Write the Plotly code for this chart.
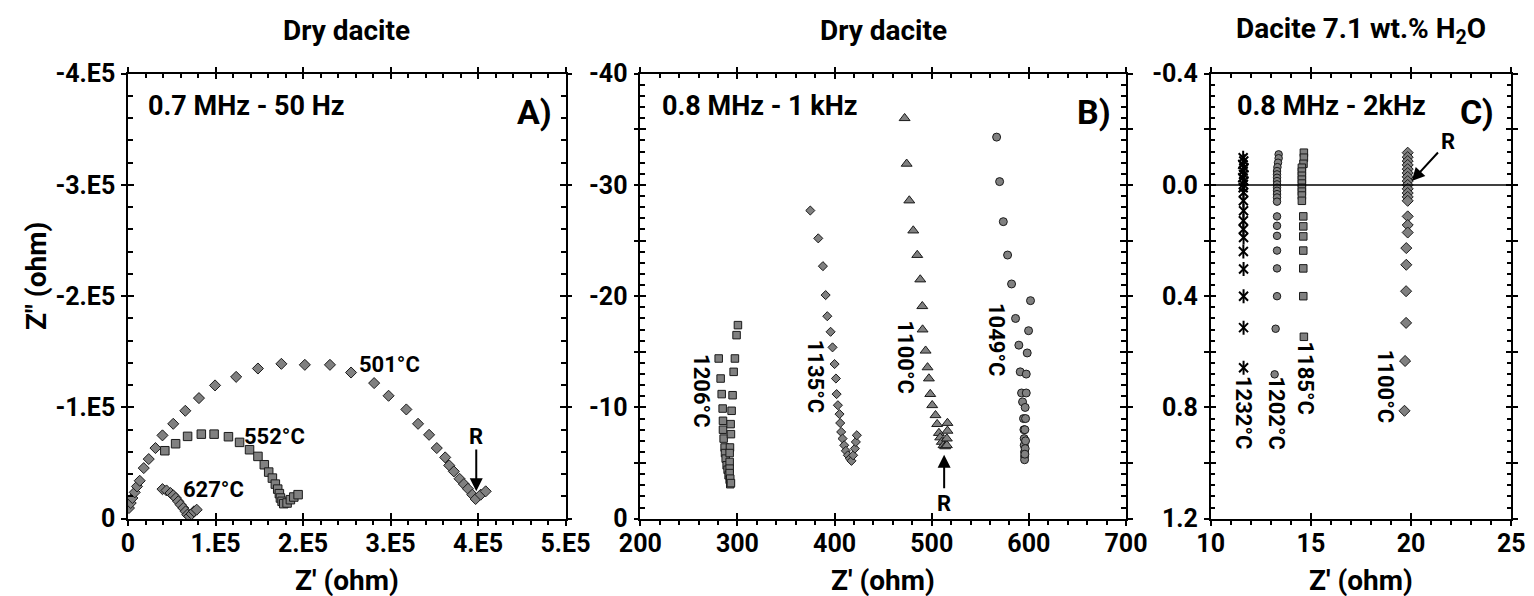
import plotly.graph_objects as go

# ---------------- Panel A : Dry dacite, 0.7 MHz - 50 Hz ----------------
a501_x = [1100, 3100, 5000, 7700, 10300, 13400, 18000, 23700, 31400, 39400, 51700, 65500, 81100,
          99500, 123600, 148500, 175300, 202100, 230800, 254900, 281300, 297800, 318100, 331500,
          344100, 352900, 362500, 367100, 372400, 378900, 383900, 388500, 393500, 397300, 403100, 408800]
a501_y = [-9600, -14100, -18600, -23700, -29000, -34100, -45500, -53600, -63500, -74900, -85300, -97000,
          -108400, -119800, -127500, -135000, -139200, -138300, -138300, -131400, -121900, -110500, -98200,
          -85300, -75400, -63500, -55100, -47900, -42500, -35900, -31100, -26900, -21600, -17700, -21600, -24600]
a552_x = [42100, 54400, 68100, 83800, 98400, 114800, 127500, 138900, 148500, 155800, 160800, 165000,
          168400, 171100, 173000, 174200, 176100, 178000, 181800, 185600, 189500, 194400]
a552_y = [-61100, -67400, -74000, -76000, -76000, -73700, -68600, -62000, -56000, -48500, -41900, -36500,
          -31100, -26600, -22500, -18600, -15600, -13500, -14100, -17100, -19500, -21600]
a627_x = [39400, 44000, 48600, 51700, 54700, 57400, 60100, 63200, 65800, 67800, 70000, 72700, 75400, 78500]
a627_y = [-26600, -25400, -23100, -21000, -18600, -15600, -12600, -9600, -6600, -3600, -2100, -4200, -6600, -8100]

# ---------------- Panel B : Dry dacite, 0.8 MHz - 1 kHz ----------------
b1206_x = [280.7, 282.7, 283.8, 284.8, 285.1, 285.1, 285.8, 286.8, 287.2, 287.9, 288.9, 289.9, 290.9, 292.0, 292.6,
           300.5, 299.1, 297.4, 296.1, 295.0, 294.0, 293.0, 293.3, 292.3, 292.0, 292.0, 292.0, 292.0, 292.6, 293.3]
b1206_y = [-14.4, -12.6, -11.2, -9.9, -8.8, -8.0, -7.2, -6.4, -5.9, -5.4, -4.8, -4.4, -3.9, -3.5, -3.1,
           -17.4, -16.5, -14.4, -13.2, -11.1, -9.7, -8.5, -7.6, -6.4, -5.9, -5.1, -4.5, -4.1, -3.6, -3.2]
b1135_x = [375.0, 383.2, 388.0, 390.8, 392.5, 395.9, 397.9, 400.0, 401.4, 402.1, 403.4, 405.1, 405.8, 406.8,
           408.2, 409.9, 411.6, 413.7, 415.7, 417.4, 419.1, 420.9, 421.9, 422.9]
b1135_y = [-27.7, -25.2, -22.7, -20.1, -18.2, -16.8, -15.4, -13.9, -12.6, -11.2, -10.2, -9.4, -8.6, -7.8,
           -7.2, -6.6, -6.1, -5.7, -5.4, -5.2, -5.7, -6.3, -6.9, -7.5]
b1100_x = [472.1, 474.2, 476.9, 481.0, 485.1, 488.2, 490.3, 490.6, 493.7, 495.7, 497.1, 498.5, 500.5, 503.9,
           505.6, 507.4, 508.7, 510.4, 512.1, 513.8, 515.6, 515.6, 516.2, 516.2]
b1100_y = [-36.0, -31.9, -28.6, -25.9, -23.7, -21.5, -19.1, -17.0, -15.1, -13.6, -12.6, -11.2, -10.2, -9.3,
           -8.5, -7.7, -7.3, -6.9, -6.6, -6.5, -6.6, -7.2, -7.9, -8.6]
b1049_x = [566.8, 569.9, 573.7, 578.1, 582.2, 586.3, 589.7, 591.1, 592.5, 593.5, 594.5, 594.9, 595.2, 595.2,
           595.6, 595.6, 595.6, 601.7, 599.7, 598.3, 597.3, 597.3, 596.2, 596.6, 595.9, 596.6, 596.2, 595.9]
b1049_y = [-34.3, -30.3, -26.7, -23.7, -21.1, -18.0, -15.6, -13.2, -11.3, -10.5, -9.0, -8.0, -7.2, -6.6,
           -6.0, -5.6, -5.3, -19.6, -16.9, -14.9, -13.0, -11.3, -10.0, -9.0, -8.0, -7.0, -6.3, -5.8]

# ---------------- Panel C : Dacite 7.1 wt.% H2O, 0.8 MHz - 2 kHz ----------------
c1232_x = [11.62, 11.65, 11.60, 11.66, 11.62, 11.64, 11.60, 11.66, 11.63, 11.62, 11.64, 11.63, 11.64,
           11.63, 11.63, 11.64, 11.63, 11.64, 11.64, 11.64, 11.64]
c1232_y = [-0.098, -0.086, -0.074, -0.062, -0.050, -0.038, -0.026, -0.014, -0.002, 0.010, 0.027, 0.057,
           0.093, 0.129, 0.159, 0.189, 0.239, 0.302, 0.400, 0.513, 0.657]
c1202_x = [13.39, 13.39, 13.36, 13.33, 13.31, 13.31, 13.31, 13.31, 13.31, 13.31, 13.31, 13.31, 13.31,
           13.31, 13.31, 13.31, 13.31, 13.31, 13.31, 13.31, 13.24, 13.19]
c1202_y = [-0.110, -0.096, -0.080, -0.064, -0.050, -0.038, -0.026, -0.014, -0.002, 0.010, 0.021, 0.033,
           0.045, 0.060, 0.113, 0.147, 0.183, 0.236, 0.300, 0.400, 0.517, 0.681]
c1185_x = [14.65, 14.65, 14.63, 14.55, 14.55, 14.55, 14.55, 14.55, 14.55, 14.55, 14.55, 14.55,
           14.62, 14.62, 14.62, 14.62, 14.62, 14.62, 14.65]
c1185_y = [-0.116, -0.098, -0.076, -0.062, -0.048, -0.033, -0.019, -0.005, 0.010, 0.024, 0.038, 0.057,
           0.113, 0.149, 0.185, 0.236, 0.300, 0.400, 0.546]
c1100_x = [19.83, 19.83, 19.83, 19.83, 19.83, 19.83, 19.83, 19.83, 19.83, 19.83, 19.83, 19.83, 19.83,
           19.83, 19.83, 19.83, 19.76, 19.76, 19.75, 19.75, 19.70, 19.67]
c1100_y = [-0.116, -0.100, -0.086, -0.072, -0.057, -0.043, -0.029, -0.014, 0.000, 0.014, 0.029, 0.043,
           0.057, 0.113, 0.144, 0.171, 0.227, 0.287, 0.382, 0.496, 0.633, 0.812]

# ticks
a_xticks = [0, 100000, 200000, 300000, 400000, 500000]
a_xtext = ['0', '1.E5', '2.E5', '3.E5', '4.E5', '5.E5']
a_yticks = [0, -100000, -200000, -300000, -400000]
a_ytext = ['0', '-1.E5', '-2.E5', '-3.E5', '-4.E5']
b_xticks = [200, 300, 400, 500, 600, 700]
b_xtext = ['200', '300', '400', '500', '600', '700']
b_yticks = [0, -5, -10, -15, -20, -25, -30, -35, -40]
b_ytext = ['0', '', '-10', '', '-20', '', '-30', '', '-40']
c_xticks = [10, 15, 20, 25]
c_xtext = ['10', '15', '20', '25']
c_yticks = [-0.4, -0.2, 0.0, 0.2, 0.4, 0.6, 0.8, 1.0, 1.2]
c_ytext = ['-0.4', '', '0.0', '', '0.4', '', '0.8', '', '1.2']

W, H = 1534, 596
FONT = 'Roboto, Liberation Sans, sans-serif'
FILL = '#808080'
EDGE = '#1a1a1a'

fig = go.Figure()


def add(xs, ys, sym, size, n, color=FILL, lw=1.0):
    sfx = '' if n == 1 else str(n)
    fig.add_trace(go.Scatter(x=xs, y=ys, mode='markers', showlegend=False, hoverinfo='skip',
                             xaxis='x' + sfx, yaxis='y' + sfx,
                             marker=dict(symbol=sym, size=size, color=color,
                                         line=dict(color=EDGE, width=lw))))


add(a501_x, a501_y, 'diamond', 8.5, 1)
add(a552_x, a552_y, 'square', 8.5, 1)
add(a627_x, a627_y, 'diamond', 8.5, 1)

add(b1206_x, b1206_y, 'square', 7.5, 2)
add(b1135_x, b1135_y, 'diamond', 7, 2)
add(b1100_x, b1100_y, 'triangle-up', 9.5, 2)
add(b1049_x, b1049_y, 'circle', 8, 2)

add(c1232_x, c1232_y, 'x-thin-open', 9, 3, color='black', lw=2)
add(c1232_x, c1232_y, 'line-ns-open', 10, 3, color='black', lw=2)
add(c1202_x, c1202_y, 'circle', 7.5, 3)
add(c1185_x, c1185_y, 'square', 7.5, 3)
add(c1100_x, c1100_y, 'diamond', 8.5, 3)

ydom = [85.3 / H, 530.3 / H]
xdoms = [[120.0 / W, 557.5 / W], [632.3 / W, 1118.0 / W], [1202.7 / W, 1503.3 / W]]
panels = [
    (a_xticks, a_xtext, [0, 500000], 20000, a_yticks, a_ytext, [0, -400000], 20000),
    (b_xticks, b_xtext, [200, 700], 20, b_yticks, b_ytext, [0, -40], 1),
    (c_xticks, c_xtext, [10, 25], 1, c_yticks, c_ytext, [1.2, -0.4], 0.04),
]

tickfont = dict(family=FONT, size=25, color='black', weight='bold')
base = dict(showgrid=False, zeroline=False, linecolor='black', linewidth=1.5, automargin=False,
            tickcolor='black', tickwidth=1.5, fixedrange=True)
layout = {}
extra = 4
for i, (xt, xtt, xr, xmin, yt, ytt, yr, ymin) in enumerate(panels):
    n = i + 1
    sfx = '' if n == 1 else str(n)
    xname, yname = 'x' + sfx, 'y' + sfx
    layout['xaxis' + sfx] = dict(base, domain=xdoms[i], range=xr, anchor=yname,
                                 tickmode='array', tickvals=xt, ticktext=xtt,
                                 ticks='outside', ticklen=6, showline=True, tickfont=tickfont,
                                 ticklabelstandoff=-4,
                                 minor=dict(ticks='outside', ticklen=5, tick0=xr[0], dtick=xmin,
                                            tickcolor='black', tickwidth=1.5))
    layout['yaxis' + sfx] = dict(base, domain=ydom, range=yr, anchor=xname,
                                 tickmode='array', tickvals=yt, ticktext=ytt,
                                 ticks='inside', ticklen=6, showline=True, mirror='ticks',
                                 tickfont=tickfont, ticklabelstandoff=6,
                                 minor=dict(ticks='inside', ticklen=5, tick0=0, dtick=ymin,
                                            tickcolor='black', tickwidth=1.5))
    specs = [
        dict(side='top', ticks='inside', ticklen=6,
             minor=dict(ticks='inside', ticklen=5, tick0=xr[0], dtick=xmin, tickcolor='black', tickwidth=1.5)),
        dict(side='bottom', ticks='outside', ticklen=5, mirror='ticks'),
        dict(side='bottom', ticks='inside', ticklen=6),
    ]
    for s in specs:
        nm = str(extra)
        layout['xaxis' + nm] = dict(base, range=xr, overlaying=xname, anchor=yname, tickmode='array',
                                    tickvals=xt, showticklabels=False, showline=True, **s)
        fig.add_trace(go.Scatter(x=[], y=[], xaxis='x' + nm, yaxis=yname, showlegend=False, hoverinfo='skip'))
        extra += 1
    nm = str(extra)
    layout['yaxis' + nm] = dict(base, range=yr, overlaying=yname, anchor=xname, tickmode='array',
                                tickvals=yt, showticklabels=False, showline=True, side='left',
                                ticks='outside', ticklen=5, mirror='ticks')
    fig.add_trace(go.Scatter(x=[], y=[], xaxis=xname, yaxis='y' + nm, showlegend=False, hoverinfo='skip'))
    extra += 1

ann = []


def txt(text, x, y, xref, yref, size, angle=0, xanchor='center', yanchor='middle'):
    ann.append(dict(text=text, x=x, y=y, xref=xref, yref=yref, showarrow=False, textangle=angle,
                    xanchor=xanchor, yanchor=yanchor,
                    font=dict(family=FONT, size=size, color='black', weight='bold')))


titles = ['Dry dacite', 'Dry dacite', 'Dacite 7.1 wt.% H<sub>2</sub>O']
freqs = ['0.7 MHz - 50 Hz', '0.8 MHz - 1 kHz', '0.8 MHz - 2kHz']
corner = ['A)', 'B)', 'C)']
freq_x = [0.040, 0.040, 0.080]
corner_x = [0.974, 0.973, 0.949]
for i in range(3):
    sfx = '' if i == 0 else str(i + 1)
    txt(titles[i], 0.5, (H - 22) / H, 'x' + sfx + ' domain', 'paper', 28)
    txt("Z' (ohm)", 0.5, (H - 572) / H, 'x' + sfx + ' domain', 'paper', 28)
    txt(freqs[i], freq_x[i], 0.928, 'x' + sfx + ' domain', 'y' + sfx + ' domain', 27, xanchor='left')
    txt(corner[i], corner_x[i], 0.914, 'x' + sfx + ' domain', 'y' + sfx + ' domain', 34, xanchor='right')

txt('Z" (ohm)', 28 / W, (H - 268) / H, 'paper', 'paper', 28, angle=-90)

# temperature labels
txt('501°C', 298600, -138300, 'x', 'y', 22)
txt('552°C', 167700, -74000, 'x', 'y', 22)
txt('627°C', 97600, -26000, 'x', 'y', 22)
txt('1206°C', 263.2, -11.5, 'x2', 'y2', 22, angle=90)
txt('1135°C', 380.5, -12.8, 'x2', 'y2', 22, angle=90)
txt('1100°C', 473.5, -14.5, 'x2', 'y2', 22, angle=90)
txt('1049°C', 566.8, -16.1, 'x2', 'y2', 22, angle=90)
txt('1232°C', 11.64, 0.818, 'x3', 'y3', 22, angle=90)
txt('1202°C', 13.31, 0.818, 'x3', 'y3', 22, angle=90)
txt('1185°C', 14.72, 0.693, 'x3', 'y3', 22, angle=90)
txt('1100°C', 18.70, 0.722, 'x3', 'y3', 22, angle=90)

# R markers
txt('R', 398000, -74000, 'x', 'y', 22)
txt('R', 512.8, -1.4, 'x2', 'y2', 22)
txt('R', 21.83, -0.155, 'x3', 'y3', 22)


def arrow(x, y, ax, ay, n):
    sfx = '' if n == 1 else str(n)
    ann.append(dict(text='', x=x, y=y, ax=ax, ay=ay, xref='x' + sfx, yref='y' + sfx,
                    axref='x' + sfx, ayref='y' + sfx, showarrow=True, arrowhead=2,
                    arrowsize=1.3, arrowwidth=2, arrowcolor='black'))


arrow(398000, -24600, 398000, -63500, 1)
arrow(512.8, -5.74, 512.8, -2.6, 2)
arrow(20.03, -0.014, 21.41, -0.122, 3)

shapes = [dict(type='line', xref='x3 domain', x0=0, x1=1, yref='y3', y0=0, y1=0,
               line=dict(color='black', width=1.5))]

fig.update_layout(width=W, height=H, margin=dict(l=0, r=0, t=0, b=0, autoexpand=False),
                  plot_bgcolor='white', paper_bgcolor='white', showlegend=False,
                  annotations=ann, shapes=shapes, **layout)
fig.write_html('out.html')
